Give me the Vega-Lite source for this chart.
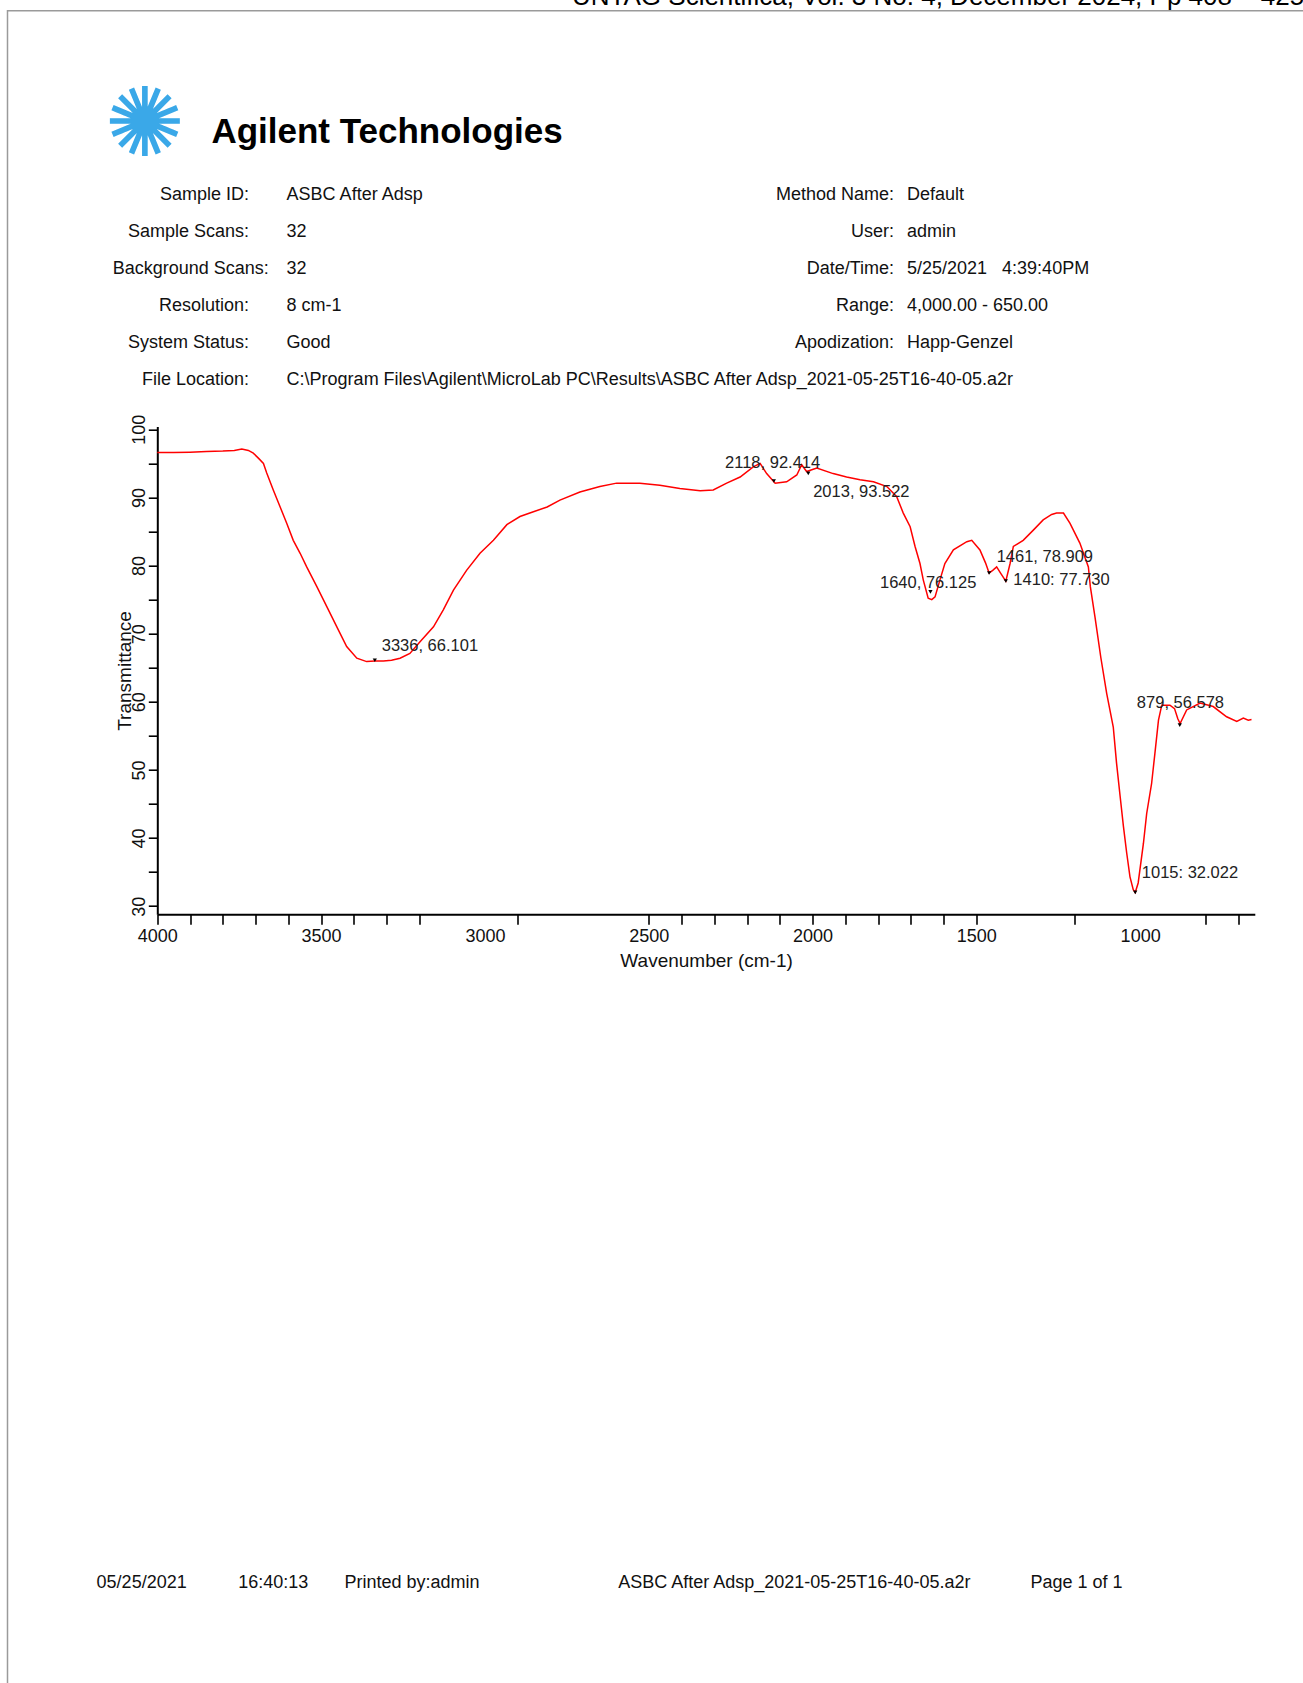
{
  "$schema": "https://vega.github.io/schema/vega-lite/v6.json",
  "width": 1298,
  "height": 1675,
  "autosize": {"type": "none"},
  "padding": {"left": 7.5, "top": 10.7, "right": -2.5, "bottom": -2.7},
  "background": "white",
  "config": {
    "view": {"stroke": "#9a9a9a", "strokeWidth": 1.5},
    "font": "Liberation Sans",
    "text": {"font": "Liberation Sans"}
  },
  "datasets": {
    "spectrum": [
      {"wn": 4000, "T": 96.6}, {"wn": 3950, "T": 96.6}, {"wn": 3900, "T": 96.65}, {"wn": 3850, "T": 96.75},
      {"wn": 3800, "T": 96.8}, {"wn": 3765, "T": 96.9}, {"wn": 3742, "T": 97.1}, {"wn": 3722, "T": 96.9},
      {"wn": 3707, "T": 96.5}, {"wn": 3690, "T": 95.7}, {"wn": 3676, "T": 95.0}, {"wn": 3666, "T": 93.6},
      {"wn": 3646, "T": 91.1}, {"wn": 3625, "T": 88.6}, {"wn": 3605, "T": 86.2}, {"wn": 3585, "T": 83.7},
      {"wn": 3564, "T": 81.8}, {"wn": 3544, "T": 79.8}, {"wn": 3513, "T": 76.9}, {"wn": 3483, "T": 74.0},
      {"wn": 3452, "T": 71.0}, {"wn": 3422, "T": 68.1}, {"wn": 3391, "T": 66.4}, {"wn": 3361, "T": 65.9},
      {"wn": 3336, "T": 66.0}, {"wn": 3310, "T": 66.0}, {"wn": 3285, "T": 66.1}, {"wn": 3259, "T": 66.4},
      {"wn": 3229, "T": 67.1}, {"wn": 3198, "T": 68.8}, {"wn": 3157, "T": 71.0}, {"wn": 3127, "T": 73.5},
      {"wn": 3096, "T": 76.4}, {"wn": 3056, "T": 79.3}, {"wn": 3015, "T": 81.8}, {"wn": 2974, "T": 83.7},
      {"wn": 2933, "T": 86.0}, {"wn": 2893, "T": 87.2}, {"wn": 2852, "T": 87.9}, {"wn": 2810, "T": 88.6},
      {"wn": 2771, "T": 89.6}, {"wn": 2710, "T": 90.8}, {"wn": 2649, "T": 91.6}, {"wn": 2598, "T": 92.1},
      {"wn": 2527, "T": 92.1}, {"wn": 2466, "T": 91.8}, {"wn": 2405, "T": 91.3}, {"wn": 2343, "T": 91.0},
      {"wn": 2303, "T": 91.1}, {"wn": 2262, "T": 92.1}, {"wn": 2221, "T": 93.0}, {"wn": 2181, "T": 94.5},
      {"wn": 2160, "T": 95.0}, {"wn": 2140, "T": 93.5}, {"wn": 2114, "T": 92.1}, {"wn": 2079, "T": 92.3},
      {"wn": 2048, "T": 93.3}, {"wn": 2033, "T": 94.8}, {"wn": 2018, "T": 93.8}, {"wn": 1987, "T": 94.3},
      {"wn": 1937, "T": 93.5}, {"wn": 1896, "T": 93.0}, {"wn": 1855, "T": 92.6}, {"wn": 1814, "T": 92.3},
      {"wn": 1773, "T": 91.6}, {"wn": 1743, "T": 90.1}, {"wn": 1723, "T": 87.7}, {"wn": 1702, "T": 85.7},
      {"wn": 1687, "T": 82.8}, {"wn": 1672, "T": 80.3}, {"wn": 1662, "T": 77.9}, {"wn": 1647, "T": 75.2},
      {"wn": 1636, "T": 75.0}, {"wn": 1626, "T": 75.4}, {"wn": 1611, "T": 77.9}, {"wn": 1596, "T": 80.3},
      {"wn": 1570, "T": 82.3}, {"wn": 1529, "T": 83.5}, {"wn": 1514, "T": 83.7}, {"wn": 1489, "T": 82.3},
      {"wn": 1472, "T": 80.4}, {"wn": 1461, "T": 78.9}, {"wn": 1450, "T": 79.3}, {"wn": 1438, "T": 79.8},
      {"wn": 1425, "T": 78.8}, {"wn": 1410, "T": 77.7}, {"wn": 1397, "T": 80.3}, {"wn": 1387, "T": 82.8},
      {"wn": 1357, "T": 83.7}, {"wn": 1326, "T": 85.2}, {"wn": 1296, "T": 86.7}, {"wn": 1270, "T": 87.5},
      {"wn": 1255, "T": 87.7}, {"wn": 1234, "T": 87.7}, {"wn": 1214, "T": 86.2}, {"wn": 1184, "T": 83.3},
      {"wn": 1158, "T": 79.8}, {"wn": 1152, "T": 76.9}, {"wn": 1138, "T": 72.5}, {"wn": 1120, "T": 66.5},
      {"wn": 1102, "T": 61.2}, {"wn": 1082, "T": 56.3}, {"wn": 1072, "T": 51.0}, {"wn": 1061, "T": 46.1},
      {"wn": 1051, "T": 41.7}, {"wn": 1041, "T": 37.8}, {"wn": 1031, "T": 34.3}, {"wn": 1021, "T": 32.4},
      {"wn": 1015, "T": 32.0}, {"wn": 1006, "T": 33.4}, {"wn": 990, "T": 39.2}, {"wn": 980, "T": 43.6},
      {"wn": 965, "T": 48.0}, {"wn": 955, "T": 52.4}, {"wn": 944, "T": 57.3}, {"wn": 934, "T": 59.5},
      {"wn": 909, "T": 59.5}, {"wn": 895, "T": 59.0}, {"wn": 885, "T": 57.5}, {"wn": 878, "T": 56.8},
      {"wn": 858, "T": 58.8}, {"wn": 817, "T": 59.8}, {"wn": 777, "T": 59.3}, {"wn": 736, "T": 57.8},
      {"wn": 705, "T": 57.1}, {"wn": 685, "T": 57.6}, {"wn": 670, "T": 57.3}, {"wn": 660, "T": 57.4}
    ],
    "peaks": [
      {"wn": 3336, "T": 66.101, "label": "3336, 66.101", "lx": 3315, "ly": 68.2},
      {"wn": 2118, "T": 92.414, "label": "2118, 92.414", "lx": 2267, "ly": 95.1},
      {"wn": 2013, "T": 93.522, "label": "2013, 93.522", "lx": 1998, "ly": 90.8},
      {"wn": 1640, "T": 76.125, "label": "1640, 76.125", "lx": 1794, "ly": 77.4},
      {"wn": 1461, "T": 78.909, "label": "1461, 78.909", "lx": 1438, "ly": 81.3},
      {"wn": 1410, "T": 77.73, "label": "1410: 77.730", "lx": 1387, "ly": 77.9},
      {"wn": 879, "T": 56.578, "label": "879, 56.578", "lx": 1010, "ly": 59.8},
      {"wn": 1015, "T": 32.022, "label": "1015: 32.022", "lx": 995, "ly": 34.8}
    ],
    "page": [
      {"kind": "journal", "text": "UNTAG Scientifica, Vol. 3 No. 4, December 2024, Pp 408 – 425", "col": 8, "line": 0},
      {"kind": "star", "text": "✺", "col": 2, "line": 1},
      {"kind": "logo", "text": "Agilent Technologies", "col": 3, "line": 2},
      {"kind": "key", "text": "Sample ID:", "col": 5, "line": 3},
      {"kind": "value", "text": "ASBC After Adsp", "col": 6, "line": 3},
      {"kind": "key", "text": "Sample Scans:", "col": 5, "line": 4},
      {"kind": "value", "text": "\u00a032", "col": 6, "line": 4},
      {"kind": "keyleft", "text": "Background Scans:", "col": 1, "line": 5},
      {"kind": "value", "text": "\u00a032", "col": 6, "line": 5},
      {"kind": "key", "text": "Resolution:", "col": 5, "line": 6},
      {"kind": "value", "text": "8 cm-1", "col": 6, "line": 6},
      {"kind": "key", "text": "System Status:", "col": 5, "line": 7},
      {"kind": "value", "text": "Good", "col": 6, "line": 7},
      {"kind": "key", "text": "File Location:", "col": 5, "line": 8},
      {"kind": "value", "text": "C:\\Program Files\\Agilent\\MicroLab PC\\Results\\ASBC After Adsp_2021-05-25T16-40-05.a2r", "col": 6, "line": 8},
      {"kind": "key", "text": "Method Name:", "col": 10, "line": 3},
      {"kind": "value", "text": "Default", "col": 11, "line": 3},
      {"kind": "key", "text": "User:", "col": 10, "line": 4},
      {"kind": "value", "text": "admin", "col": 11, "line": 4},
      {"kind": "key", "text": "Date/Time:", "col": 10, "line": 5},
      {"kind": "value", "text": "5/25/2021\u00a0\u00a0\u00a04:39:40PM", "col": 11, "line": 5},
      {"kind": "key", "text": "Range:", "col": 10, "line": 6},
      {"kind": "value", "text": "4,000.00 - 650.00", "col": 11, "line": 6},
      {"kind": "key", "text": "Apodization:", "col": 10, "line": 7},
      {"kind": "value", "text": "Happ-Genzel", "col": 11, "line": 7},
      {"kind": "footer", "text": "05/25/2021", "col": 0, "line": 9},
      {"kind": "footer", "text": "16:40:13", "col": 4, "line": 9},
      {"kind": "footer", "text": "Printed by:admin", "col": 7, "line": 9},
      {"kind": "footer", "text": "ASBC After Adsp_2021-05-25T16-40-05.a2r", "col": 9, "line": 9},
      {"kind": "footer", "text": "Page 1 of 1", "col": 12, "line": 9}
    ]
  },
  "resolve": {"scale": {"x": "independent", "y": "independent"}},
  "layer": [
    {
      "resolve": {"scale": {"x": "shared", "y": "shared"}, "axis": {"x": "independent", "y": "shared"}},
      "layer": [
        {
          "data": {"name": "spectrum"},
          "mark": {"type": "line", "color": "#ff0000", "strokeWidth": 1.5, "interpolate": "linear"},
          "encoding": {
            "x": {
              "field": "wn", "type": "quantitative",
              "scale": {"domain": [650, 4000], "reverse": true, "range": [149.8, 1247.3], "nice": false, "zero": false},
              "axis": {
                "orient": "bottom", "offset": -771.4,
                "values": [4000, 3900, 3800, 3700, 3600, 3500, 3400, 3300, 3200, 2900, 2500, 2400, 2300, 2200, 2100, 2000, 1900, 1800, 1700, 1600, 1500, 1200, 800, 700],
                "labels": false, "title": null, "grid": false,
                "domain": true, "domainColor": "#000000", "domainWidth": 2,
                "ticks": true, "tickColor": "#000000", "tickWidth": 1.6, "tickSize": 10
              }
            },
            "y": {
              "field": "T", "type": "quantitative",
              "scale": {"domain": [28.8, 100.4], "range": [903.6, 415.9], "nice": false, "zero": false},
              "axis": {
                "orient": "left", "offset": -149.8,
                "values": [100, 95, 90, 85, 80, 75, 70, 65, 60, 55, 50, 45, 40, 35, 30],
                "labelExpr": "datum.value % 10 === 0 ? datum.label : ''",
                "labelAngle": 270, "labelAlign": "center", "labelBaseline": "bottom",
                "labelPadding": 0, "labelFontSize": 18, "labelColor": "#111111",
                "labelOverlap": false, "labelFlush": false,
                "grid": false, "domain": true, "domainColor": "#000000", "domainWidth": 2,
                "ticks": true, "tickColor": "#000000", "tickWidth": 1.6, "tickSize": 9,
                "title": "Transmittance", "titleFontSize": 19, "titleFontWeight": "normal",
                "titleColor": "#111111", "titlePadding": -4
              }
            }
          }
        },
        {
          "data": {"name": "peaks"},
          "mark": {"type": "point", "shape": "triangle-down", "filled": true, "color": "#000000", "size": 18, "opacity": 1},
          "encoding": {
            "x": {
              "field": "wn", "type": "quantitative",
              "axis": {
                "orient": "bottom", "offset": -771.4,
                "values": [4000, 3500, 3000, 2500, 2000, 1500, 1000],
                "format": "d",
                "ticks": false, "tickSize": 0, "domain": false, "grid": false,
                "labels": true, "labelFontSize": 18, "labelColor": "#111111", "labelPadding": 13,
                "labelFlush": false, "labelOverlap": false,
                "title": "Wavenumber (cm-1)", "titleFontSize": 19, "titleFontWeight": "normal",
                "titleColor": "#111111", "titlePadding": 6
              }
            },
            "y": {"field": "T", "type": "quantitative"}
          }
        },
        {
          "data": {"name": "peaks"},
          "mark": {"type": "text", "align": "left", "baseline": "middle", "fontSize": 16.5, "color": "#222222"},
          "encoding": {
            "x": {"field": "lx", "type": "quantitative", "axis": null},
            "y": {"field": "ly", "type": "quantitative"},
            "text": {"field": "label"}
          }
        }
      ]
    },
    {
      "data": {"name": "page"},
      "encoding": {
        "x": {
          "field": "col", "type": "quantitative", "axis": null,
          "scale": {"domain": [0, 1, 2, 3, 4, 5, 6, 7, 8, 9, 10, 11, 12], "range": [89.1, 105.2, 137.5, 203.9, 230.8, 241.5, 279.1, 337.0, 564.5, 610.7, 886.5, 899.5, 1022.9], "nice": false, "zero": false}
        },
        "y": {
          "field": "line", "type": "quantitative", "axis": null,
          "scale": {"domain": [0, 1, 2, 3, 4, 5, 6, 7, 8, 9], "range": [-5.3, 115.9, 132.1, 184.1, 221.2, 258.3, 295.4, 332.5, 369.6, 1572.3], "nice": false, "zero": false}
        },
        "text": {"field": "text"}
      },
      "layer": [
        {"transform": [{"filter": "datum.kind === 'key'"}], "mark": {"type": "text", "align": "right", "baseline": "middle", "fontSize": 18, "color": "#111111"}},
        {"transform": [{"filter": "datum.kind === 'keyleft'"}], "mark": {"type": "text", "align": "left", "baseline": "middle", "fontSize": 18, "color": "#111111"}},
        {"transform": [{"filter": "datum.kind === 'value'"}], "mark": {"type": "text", "align": "left", "baseline": "middle", "fontSize": 18, "color": "#111111"}},
        {"transform": [{"filter": "datum.kind === 'footer'"}], "mark": {"type": "text", "align": "left", "baseline": "middle", "fontSize": 18, "color": "#111111"}},
        {"transform": [{"filter": "datum.kind === 'logo'"}], "mark": {"type": "text", "align": "left", "baseline": "alphabetic", "fontSize": 35, "fontWeight": "bold", "color": "#000000"}},
        {"transform": [{"filter": "datum.kind === 'star'"}], "mark": {"type": "text", "align": "center", "baseline": "middle", "fontSize": 96, "font": "DejaVu Sans", "color": "#3aa8e8"}},
        {"transform": [{"filter": "datum.kind === 'journal'"}], "mark": {"type": "text", "align": "left", "baseline": "alphabetic", "fontSize": 26, "color": "#000000"}}
      ]
    }
  ]
}
